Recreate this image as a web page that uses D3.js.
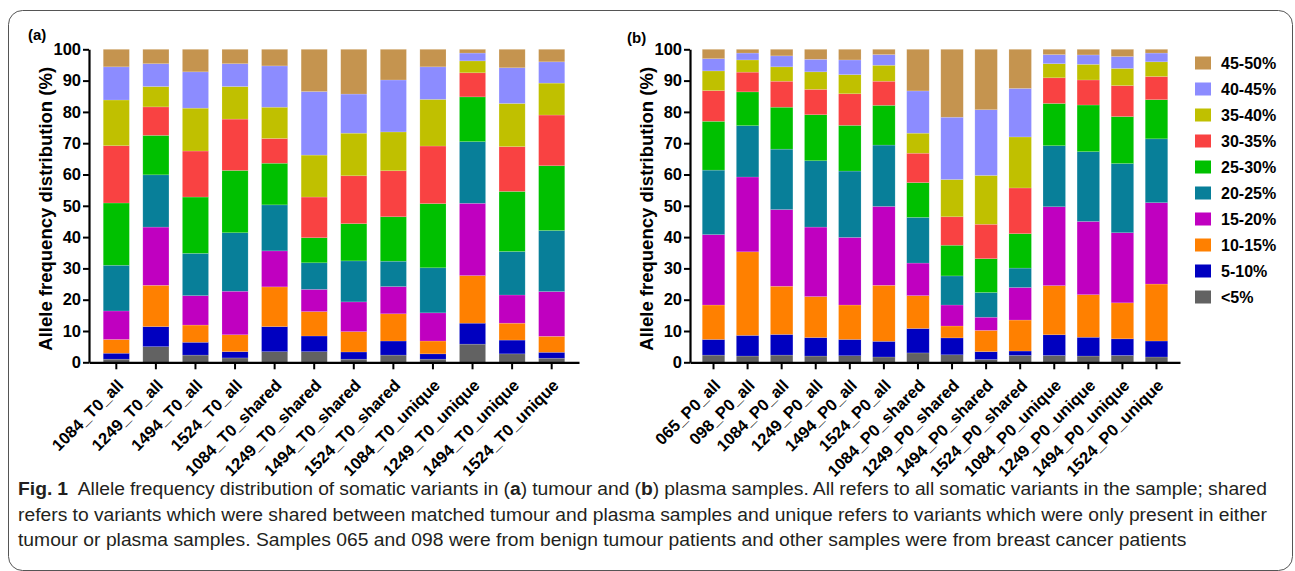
<!DOCTYPE html>
<html>
<head>
<meta charset="utf-8">
<script src="https://cdn.jsdelivr.net/npm/d3@7"></script>
<style>
  body { margin: 0; background: #fff; }
  svg { display: block; }
  text { font-family: "Liberation Sans", Arial, sans-serif; }
</style>
</head>
<body>
<svg width="1295" height="571"></svg>
<script>
// allele frequency bins, bottom to top
const bins = ['<5%', '5-10%', '10-15%', '15-20%', '20-25%', '25-30%', '30-35%', '35-40%', '40-45%', '45-50%']
const binColors = ['#626262', '#0000c0', '#ff8000', '#c000c0', '#087f99', '#00c000', '#f94242', '#c0c000', '#8c8cff', '#c5944f']

// (a) tumour samples
const samplesA = ['1084_T0_all', '1249_T0_all', '1494_T0_all', '1524_T0_all',
  '1084_T0_shared', '1249_T0_shared', '1494_T0_shared', '1524_T0_shared',
  '1084_T0_unique', '1249_T0_unique', '1494_T0_unique', '1524_T0_unique']
const valuesA = [
  [1.0, 1.9, 4.4, 9.1, 14.6, 19.9, 18.3, 14.6, 10.6, 5.6],
  [5.0, 6.4, 13.2, 18.6, 16.7, 12.6, 9.1, 6.5, 7.3, 4.6],
  [2.3, 4.1, 5.5, 9.4, 13.5, 18.0, 14.7, 13.7, 11.6, 7.2],
  [1.4, 2.0, 5.4, 13.9, 18.7, 19.9, 16.4, 10.4, 7.3, 4.6],
  [3.4, 8.0, 12.7, 11.5, 14.7, 13.3, 7.9, 10.0, 13.2, 5.3],
  [3.4, 5.0, 7.8, 7.1, 8.5, 8.0, 13.0, 13.4, 20.3, 13.5],
  [1.0, 2.3, 6.5, 9.5, 13.1, 11.9, 15.3, 13.6, 12.5, 14.3],
  [2.3, 4.5, 8.7, 8.7, 8.1, 14.2, 14.7, 12.4, 16.6, 9.8],
  [1.0, 1.7, 4.1, 9.0, 14.4, 20.5, 18.4, 14.9, 10.4, 5.6],
  [5.8, 6.7, 15.2, 23.1, 19.7, 14.3, 7.7, 3.8, 2.5, 1.2],
  [2.7, 4.4, 5.4, 9.0, 13.9, 19.2, 14.3, 13.8, 11.4, 5.9],
  [1.3, 1.9, 5.1, 14.3, 19.5, 20.7, 16.2, 10.2, 6.8, 4.0]
]

// (b) plasma samples
const samplesB = ['065_P0_all', '098_P0_all', '1084_P0_all', '1249_P0_all', '1494_P0_all', '1524_P0_all',
  '1084_P0_shared', '1249_P0_shared', '1494_P0_shared', '1524_P0_shared',
  '1084_P0_unique', '1249_P0_unique', '1494_P0_unique', '1524_P0_unique']
const valuesB = [
  [2.3, 5.0, 11.0, 22.5, 20.6, 15.6, 9.8, 6.3, 3.9, 3.0],
  [2.0, 6.6, 26.7, 23.9, 16.4, 10.8, 6.3, 3.9, 2.2, 1.2],
  [2.3, 6.6, 15.4, 24.5, 19.3, 13.4, 8.3, 4.6, 3.5, 2.1],
  [2.0, 5.9, 13.1, 22.2, 21.2, 14.7, 8.1, 5.6, 4.0, 3.2],
  [2.1, 5.2, 11.0, 21.6, 21.2, 14.6, 10.1, 6.1, 4.7, 3.4],
  [1.7, 5.0, 17.9, 25.2, 19.6, 12.7, 7.7, 5.1, 3.4, 1.7],
  [3.0, 7.8, 10.5, 10.4, 14.6, 11.1, 9.4, 6.4, 13.5, 13.3],
  [2.4, 5.4, 3.8, 6.7, 9.3, 9.8, 9.1, 11.9, 19.9, 21.7],
  [0.9, 2.5, 6.8, 4.2, 7.9, 10.8, 11.0, 15.6, 21.0, 19.3],
  [2.2, 1.4, 9.9, 10.4, 6.2, 11.0, 14.6, 16.3, 15.5, 12.5],
  [2.2, 6.6, 15.7, 25.2, 19.5, 13.5, 8.2, 4.5, 2.9, 1.7],
  [2.0, 6.0, 13.6, 23.4, 22.3, 14.9, 8.0, 5.0, 3.0, 1.8],
  [2.2, 5.3, 11.5, 22.4, 22.1, 15.0, 9.9, 5.5, 3.8, 2.3],
  [1.7, 5.1, 18.2, 26.0, 20.4, 12.5, 7.4, 4.7, 2.8, 1.2]
]

const yTicks = [0, 10, 20, 30, 40, 50, 60, 70, 80, 90, 100]
const yTitle = 'Allele frequency distribution (%)'

const captionLines = [
  'Allele frequency distribution of somatic variants in (a) tumour and (b) plasma samples. All refers to all somatic variants in the sample; shared',
  'refers to variants which were shared between matched tumour and plasma samples and unique refers to variants which were only present in either',
  'tumour or plasma samples. Samples 065 and 098 were from benign tumour patients and other samples were from breast cancer patients'
]

const svg = d3.select('svg')

// rounded frame round the whole figure
svg.append('rect')
  .attr('x', 8.5).attr('y', 10.5)
  .attr('width', 1284).attr('height', 560)
  .attr('rx', 14).attr('ry', 14)
  .attr('fill', 'none')
  .attr('stroke', '#555')
  .attr('stroke-width', 1)

var draw_panel = function(samples, values, left, right, letter, letterX, letterY) {
  const top = 49.3, bottom = 362.3

  const table = samples.map((s, i) => {
    const row = { sample: s }
    bins.forEach((b, j) => { row[b] = values[i][j] })
    return row
  })
  const series = d3.stack().keys(bins)(table)

  const x = d3.scaleBand()
    .domain(samples)
    .range([left, right])
    .paddingInner(0.34)
    .paddingOuter(0.36)
  const y = d3.scaleLinear()
    .domain([0, 100])
    .range([bottom, top])

  const g = svg.append('g')

  g.selectAll('g.layer')
    .data(series)
    .enter()
    .append('g')
    .attr('class', 'layer')
    .attr('fill', (d, i) => binColors[i])
    .selectAll('rect')
    .data(d => d)
    .enter()
    .append('rect')
    .attr('x', d => x(d.data.sample))
    .attr('y', d => y(d[1]))
    .attr('height', d => y(d[0]) - y(d[1]))
    .attr('width', x.bandwidth())
    .attr('stroke', '#fff')
    .attr('stroke-opacity', 0.25)
    .attr('stroke-width', 0.6)

  // y axis
  const yAxis = g.append('g')
    .attr('transform', `translate(${left}, 0)`)
    .call(d3.axisLeft(y).tickValues(yTicks).tickSize(6).tickSizeOuter(0).tickPadding(2))
  yAxis.select('.domain').attr('stroke-width', 2.2)
  yAxis.selectAll('.tick line').attr('stroke-width', 2)
  yAxis.selectAll('.tick text')
    .attr('font-size', 16.5)
    .attr('font-weight', 'bold')
    .attr('fill', '#000')

  // x axis
  const xAxis = g.append('g')
    .attr('transform', `translate(0, ${bottom})`)
    .call(d3.axisBottom(x).tickSize(7).tickSizeOuter(0))
  xAxis.select('.domain').attr('stroke-width', 2.2)
  xAxis.selectAll('.tick line').attr('stroke-width', 2)
  xAxis.selectAll('.tick text')
    .attr('x', 0).attr('y', 0).attr('dy', '0.35em')
    .attr('transform', 'translate(4, 20) rotate(-45)')
    .attr('text-anchor', 'end')
    .attr('font-size', 16.5)
    .attr('font-weight', 'bold')
    .attr('fill', '#000')

  // axis title
  g.append('text')
    .attr('transform', `translate(${left - 37}, ${(top + bottom) / 2 + 3}) rotate(-90)`)
    .attr('text-anchor', 'middle')
    .attr('font-size', 18.5)
    .attr('font-weight', 'bold')
    .text(yTitle)

  // panel letter
  g.append('text')
    .attr('x', letterX).attr('y', letterY)
    .attr('font-size', 15)
    .attr('font-weight', 'bold')
    .text('(' + letter + ')')
}

draw_panel(samplesA, valuesA, 89, 579, 'a', 28, 40)
draw_panel(samplesB, valuesB, 690, 1180, 'b', 627, 43)

// legend, top bin first
const legend = svg.append('g')
bins.slice().reverse().forEach((b, i) => {
  const color = binColors[bins.length - 1 - i]
  const row = legend.append('g').attr('transform', `translate(1195, ${63 + i * 26})`)
  row.append('rect')
    .attr('x', 0).attr('y', -6.5)
    .attr('width', 16).attr('height', 13)
    .attr('fill', color)
  row.append('text')
    .attr('x', 26).attr('y', 0).attr('dy', '0.36em')
    .attr('font-size', 16)
    .attr('font-weight', 'bold')
    .text(b)
})

// caption: glyphs squeezed a little, first two lines justified
const cap = svg.append('g')
  .attr('fill', '#231f20')
  .attr('font-size', 18.5)
const capX = 18
const capEnds = [1267, 1267, 1187]
const capBase = [495, 521, 546]

const last = cap.append('text')
  .attr('x', 0).attr('y', 0)
  .text(captionLines[2])
const sx = (capEnds[2] - capX) / last.node().getComputedTextLength()
last.attr('transform', `translate(${capX}, ${capBase[2]}) scale(${sx}, 1)`)

var justify = function(textSel, target) {
  const natural = textSel.node().getComputedTextLength()
  const spaces = (textSel.text().match(/ /g) || []).length
  textSel.attr('word-spacing', (target / sx - natural) / spaces)
}

// first line has bold bits: "Fig. 1", "a", "b"
const l1 = cap.append('text')
  .attr('x', 0).attr('y', 0)
  .attr('transform', `translate(${capX}, ${capBase[0]}) scale(${sx}, 1)`)
l1.append('tspan').attr('font-weight', 'bold').text('Fig. 1')
l1.append('tspan').text('\u2002Allele frequency distribution of somatic variants in (')
l1.append('tspan').attr('font-weight', 'bold').text('a')
l1.append('tspan').text(') tumour and (')
l1.append('tspan').attr('font-weight', 'bold').text('b')
l1.append('tspan').text(') plasma samples. All refers to all somatic variants in the sample; shared')
justify(l1, capEnds[0] - capX)

const l2 = cap.append('text')
  .attr('x', 0).attr('y', 0)
  .attr('transform', `translate(${capX}, ${capBase[1]}) scale(${sx}, 1)`)
  .text(captionLines[1])
justify(l2, capEnds[1] - capX)
</script>
</body>
</html>
